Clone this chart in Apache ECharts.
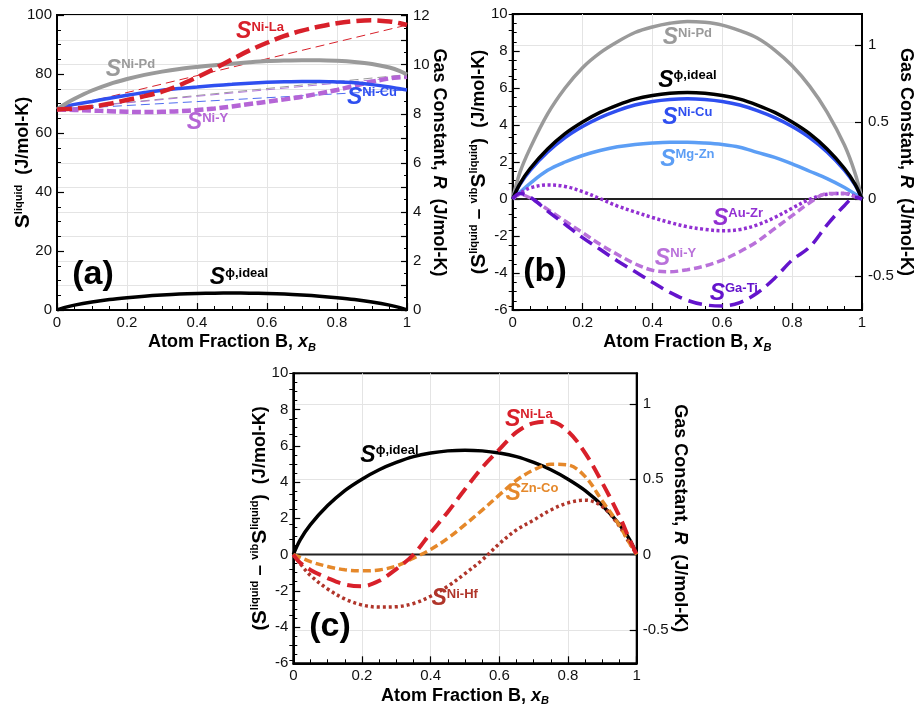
<!DOCTYPE html>
<html>
<head>
<meta charset="utf-8">
<script src="https://cdn.jsdelivr.net/npm/echarts@6/dist/echarts.min.js"></script>
<style>
  html, body { margin: 0; padding: 0; background: #fff; }
  #chart { width: 916px; height: 708px; }
</style>
</head>
<body>
<div id="chart"></div>
<script>
// Gas constant used to relate the left (J/mol-K) and right (R) scales
const R_GAS = 8.314;

// Composition grid, atom fraction of B
const xB = [0, 0.02, 0.05, 0.1, 0.15, 0.2, 0.25, 0.3, 0.35, 0.4, 0.45, 0.5,
            0.55, 0.6, 0.65, 0.7, 0.75, 0.8, 0.85, 0.9, 0.95, 0.98, 1];
const xEnds = [0, 1];

// Ideal configurational entropy of mixing (all panels)
const idealMix = [0, 0.81, 1.65, 2.70, 3.53, 4.16, 4.68, 5.08, 5.40, 5.60, 5.72, 5.76,
                  5.72, 5.60, 5.40, 5.08, 4.68, 4.16, 3.53, 2.70, 1.65, 0.81, 0];

// Panel (a): total liquid entropy, J/mol-K
const liqNiLa = [68, 68.1, 68.3, 68.9, 69.9, 71.2, 72.5, 74.0, 76.2, 78.9, 81.8, 85.0,
                 88.0, 90.6, 92.9, 94.7, 96.1, 97.2, 97.9, 98.2, 97.8, 97.2, 96.6];
const liqNiPd = [68, 69.6, 71.6, 74.4, 76.6, 78.3, 79.7, 80.8, 81.7, 82.4, 83.0, 83.5,
                 84.0, 84.4, 84.6, 84.7, 84.7, 84.5, 84.1, 83.4, 82.2, 81.0, 79.8];
const liqNiCu = [68, 68.9, 69.7, 70.7, 71.8, 72.8, 73.7, 74.5, 75.1, 75.6, 76.1, 76.5,
                 76.9, 77.2, 77.4, 77.5, 77.5, 77.3, 77.0, 76.4, 75.6, 75.0, 74.6];
const liqNiY  = [68, 67.9, 67.8, 67.6, 67.4, 67.2, 67.1, 67.2, 67.4, 67.8, 68.3, 69.0,
                 69.8, 70.6, 71.4, 72.3, 73.4, 74.6, 76.0, 77.4, 78.5, 78.9, 79.1];
// Straight mixing lines between the pure-element values
const mixNiLa = [68, 96.6];
const mixNiPd = [68, 79.8];
const mixNiY  = [68, 79.1];
const mixNiCu = [68, 74.6];

// Panel (b): liquid minus vibrational entropy, J/mol-K
const exNiPd = [0, 1.4, 2.75, 4.6, 6.0, 7.1, 7.9, 8.5, 9.0, 9.3, 9.5, 9.6,
                9.55, 9.4, 9.1, 8.7, 8.05, 7.2, 6.1, 4.7, 2.9, 1.4, 0];
const exNiCu = [0, 0.76, 1.55, 2.54, 3.32, 3.92, 4.40, 4.78, 5.08, 5.27, 5.38, 5.42,
                5.38, 5.27, 5.08, 4.78, 4.40, 3.92, 3.32, 2.54, 1.55, 0.76, 0];
const exMgZn = [0, 0.35, 0.85, 1.55, 2.0, 2.35, 2.62, 2.82, 2.95, 3.03, 3.07, 3.07,
                3.03, 2.95, 2.8, 2.52, 2.25, 1.9, 1.5, 1.1, 0.62, 0.27, 0];
const exAuZr = [0, 0.3, 0.6, 0.76, 0.68, 0.4, 0.02, -0.38, -0.7, -1.0, -1.27, -1.5,
                -1.64, -1.72, -1.65, -1.4, -1.0, -0.5, -0.02, 0.26, 0.3, 0.15, 0];
const exNiY  = [0, 0.25, 0.05, -0.56, -1.19, -1.82, -2.45, -3.0, -3.5, -3.85, -3.93, -3.82,
                -3.62, -3.3, -2.85, -2.3, -1.6, -0.9, -0.2, 0.29, 0.3, 0.12, 0];
const exGaTi = [0, 0.3, 0.1, -0.65, -1.37, -2.09, -2.72, -3.35, -3.92, -4.5, -5.05, -5.48,
                -5.72, -5.78, -5.6, -5.08, -4.28, -3.3, -2.6, -1.4, -0.35, 0.1, 0];

// Panel (c): liquid minus vibrational entropy, J/mol-K
const exNiLa = [0, -0.45, -0.85, -1.3, -1.65, -1.75, -1.45, -0.8, 0.0, 1.2, 2.35, 3.6,
                4.8, 5.8, 6.75, 7.25, 7.33, 6.8, 5.6, 3.95, 2.1, 0.8, 0];
const exZnCo = [0, -0.15, -0.39, -0.66, -0.84, -0.9, -0.85, -0.63, -0.2, 0.28, 0.9, 1.65,
                2.45, 3.29, 4.1, 4.67, 4.98, 4.94, 4.3, 2.95, 1.6, 0.6, 0];
const exNiHf = [0, -0.5, -1.15, -1.9, -2.45, -2.78, -2.9, -2.88, -2.7, -2.3, -1.75, -1.05,
                -0.3, 0.6, 1.36, 1.9, 2.46, 2.85, 3.0, 2.65, 1.55, 0.6, 0];
const zeroLine = [0, 0];

// Tick values
const rTicksBC = [-0.5, 0, 0.5, 1];
const rMinorBC = [-0.7, -0.6, -0.4, -0.3, -0.2, -0.1, 0.1, 0.2, 0.3, 0.4, 0.6, 0.7, 0.8, 0.9, 1.1, 1.2];

const FONT = '"Liberation Sans", Arial, sans-serif';
const C = {
  red: '#d8202a', gray: '#9a9a9a', blue: '#2f4ff0', lilac: '#b565d6',
  sky: '#5c9ef5', violet: '#9230d2', indigo: '#6414cc', orange: '#e5882a',
  brick: '#b0352a', black: '#000000'
};

const grids = [
  { left: 57, top: 15, width: 350, height: 295 },
  { left: 512.7, top: 14, width: 353, height: 296 },
  { left: 293.3, top: 373.3, width: 343.4, height: 290 }
].map(g => Object.assign({ show: true, borderColor: '#000', borderWidth: 2, backgroundColor: 'transparent' }, g));

const tickLabel = { fontFamily: FONT, fontSize: 15, color: '#111' };
const nameRich = {
  t: { fontFamily: FONT, fontSize: 18, fontWeight: 'bold', color: '#000' },
  i: { fontFamily: FONT, fontSize: 18, fontWeight: 'bold', fontStyle: 'italic', color: '#000' },
  b: { fontFamily: FONT, fontSize: 21, fontWeight: 'bold', color: '#000' },
  p: { fontFamily: FONT, fontSize: 19, fontWeight: 'bold', color: '#000' },
  u: { fontFamily: FONT, fontSize: 11, fontWeight: 'bold', color: '#000', verticalAlign: 'top' },
  sub: { fontFamily: FONT, fontSize: 11, fontWeight: 'bold', fontStyle: 'italic', color: '#000', padding: [10, 0, 0, 0] }
};

function xAxisFor(gi) {
  return {
    type: 'value', gridIndex: gi, min: 0, max: 1, interval: 0.2,
    name: '{t|Atom Fraction B, }{i|x}{sub|B}',
    nameLocation: 'middle', nameGap: 22, nameMoveOverlap: false,
    nameTextStyle: { rich: nameRich },
    axisLine: { show: true, onZero: false, lineStyle: { color: '#000', width: 2 } },
    axisTick: { show: true, inside: true, length: 7, lineStyle: { color: '#000', width: 1.2 } },
    minorTick: { show: true, splitNumber: 4, length: 4, lineStyle: { color: '#000', width: 1 } },
    axisLabel: Object.assign({ margin: 5, formatter: v => String(+v.toFixed(1)) }, tickLabel),
    splitLine: { show: true, lineStyle: { color: '#e4e4e4', width: 1 } }
  };
}

function leftAxis(gi, min, max, interval, name, gap) {
  return {
    type: 'value', gridIndex: gi, position: 'left', min, max, interval,
    name, nameLocation: 'middle', nameGap: gap, nameRotate: 90, nameMoveOverlap: false,
    nameTextStyle: { rich: nameRich },
    axisLine: { show: true, onZero: false, lineStyle: { color: '#000', width: 2 } },
    axisTick: { show: true, inside: true, length: 7, lineStyle: { color: '#000', width: 1.2 } },
    minorTick: { show: true, splitNumber: 4, length: 4, lineStyle: { color: '#000', width: 1 } },
    axisLabel: Object.assign({ margin: 5 }, tickLabel),
    splitLine: { show: false }
  };
}

const gasName = '{t|Gas Constant, }{i|R}{t|  (J/mol-K)}';
const diffName = '{p|(}{b|S}{u|liquid}{p| – }{u|vib}{b|S}{u|liquid}{p|)}{t|  (J/mol-K)}';

const yAxes = [
  // (a) left
  leftAxis(0, 0, 100, 20, '{b|S}{u|liquid}{t|  (J/mol-K)}', 23),
  // (a) right, in units of R
  {
    type: 'value', gridIndex: 0, position: 'right', min: 0, max: 100 / R_GAS, interval: 1,
    name: gasName, nameLocation: 'middle', nameGap: 23, nameRotate: -90, nameMoveOverlap: false,
    nameTextStyle: { rich: nameRich },
    axisLine: { show: true, onZero: false, lineStyle: { color: '#000', width: 2 } },
    axisTick: { show: true, inside: true, length: 6, lineStyle: { color: '#000', width: 1.2 } },
    minorTick: { show: true, splitNumber: 2, length: 3, lineStyle: { color: '#000', width: 1 } },
    axisLabel: Object.assign({
      margin: 6,
      formatter: v => (Math.abs(v - Math.round(v)) < 1e-6 && Math.round(v) % 2 === 0 && v <= 12) ? String(Math.round(v)) : ''
    }, tickLabel),
    splitLine: { show: true, lineStyle: { color: '#e4e4e4', width: 1 } }
  }
];

function rightBC(gi, gap) {
  return [
    {
      type: 'value', gridIndex: gi, position: 'right', min: -6 / R_GAS, max: 10 / R_GAS,
      name: gasName, nameLocation: 'middle', nameGap: gap, nameRotate: -90, nameMoveOverlap: false,
      nameTextStyle: { rich: nameRich },
      axisLine: { show: true, onZero: false, lineStyle: { color: '#000', width: 2 } },
      axisTick: { show: true, inside: true, length: 7, customValues: rTicksBC, lineStyle: { color: '#000', width: 1.2 } },
      axisLabel: Object.assign({ margin: 6, customValues: rTicksBC, formatter: v => String(+(+v).toFixed(2)) }, tickLabel),
      splitLine: { show: true, lineStyle: { color: '#e4e4e4', width: 1 } }
    },
    {
      type: 'value', gridIndex: gi, position: 'right', min: -6 / R_GAS, max: 10 / R_GAS,
      axisLine: { show: false },
      axisTick: { show: true, inside: true, length: 4, customValues: rMinorBC, lineStyle: { color: '#000', width: 1 } },
      axisLabel: { show: false },
      splitLine: { show: false }
    }
  ];
}

yAxes.push(leftAxis(1, -6, 10, 2, diffName, 23));   // index 2
yAxes.push(...rightBC(1, 35));                       // index 3, 4
yAxes.push(leftAxis(2, -6, 10, 2, diffName, 23));   // index 5
yAxes.push(...rightBC(2, 34));                       // index 6, 7

function pairs(xs, ys) { return xs.map((x, i) => [x, ys[i]]); }

function curve(name, xi, yi, ys, color, width, dash, z, xs) {
  return {
    type: 'line', name, xAxisIndex: xi, yAxisIndex: yi,
    data: pairs(xs || xB, ys), symbol: 'none', smooth: xs ? false : 0.35,
    lineStyle: { color, width, type: dash || 'solid', cap: 'butt' },
    z: z || 3, silent: true, animation: false
  };
}

const tagRich = {
  s: { fontFamily: FONT, fontSize: 23, fontWeight: 'bold', fontStyle: 'italic' },
  u: { fontFamily: FONT, fontSize: 13, fontWeight: 'bold', verticalAlign: 'top' }
};

function tags(xi, yi, list) {
  return {
    type: 'scatter', xAxisIndex: xi, yAxisIndex: yi, symbolSize: 1,
    itemStyle: { color: 'rgba(0,0,0,0)', opacity: 1 }, silent: true, animation: false, z: 20,
    data: list.map(t => ({
      value: t.at,
      label: { show: true, position: 'inside', color: t.color, opacity: 1,
               formatter: '{s|S}{u|' + t.sup + '}', rich: tagRich }
    }))
  };
}

const series = [
  // (a)
  curve('mix Ni-La', 0, 0, mixNiLa, C.red, 1, [9, 5], 2, xEnds),
  curve('mix Ni-Pd', 0, 0, mixNiPd, C.gray, 1, [9, 5], 2, xEnds),
  curve('mix Ni-Y', 0, 0, mixNiY, '#b27ad8', 1, [9, 5], 2, xEnds),
  curve('mix Ni-Cu', 0, 0, mixNiCu, '#4f6cf0', 1, [9, 5], 2, xEnds),
  curve('ideal a', 0, 0, idealMix, C.black, 3.5),
  curve('Ni-Y a', 0, 0, liqNiY, C.lilac, 4.5, [9, 3.5]),
  curve('Ni-Cu a', 0, 0, liqNiCu, C.blue, 3.5),
  curve('Ni-Pd a', 0, 0, liqNiPd, C.gray, 4),
  curve('Ni-La a', 0, 0, liqNiLa, C.red, 4.5, [15, 6]),
  tags(0, 0, [
    { sup: 'Ni-La', color: C.red, at: [0.58, 94.2] },
    { sup: 'Ni-Pd', color: C.gray, at: [0.21, 81.4] },
    { sup: 'Ni-Cu', color: C.blue, at: [0.90, 71.9] },
    { sup: 'Ni-Y', color: C.lilac, at: [0.43, 63.4] },
    { sup: 'ϕ,ideal', color: C.black, at: [0.52, 10.8] }
  ]),
  // (b)
  curve('zero b', 1, 2, zeroLine, '#222', 2, 'solid', 2, xEnds),
  curve('Ni-Pd b', 1, 2, exNiPd, C.gray, 3.5),
  curve('Mg-Zn b', 1, 2, exMgZn, C.sky, 3.5),
  curve('Ni-Cu b', 1, 2, exNiCu, C.blue, 3.5),
  curve('ideal b', 1, 2, idealMix, C.black, 3.5),
  curve('Au-Zr b', 1, 2, exAuZr, C.violet, 3.5, [3, 2.5]),
  curve('Ni-Y b', 1, 2, exNiY, '#b971da', 3.5, [8, 4]),
  curve('Ga-Ti b', 1, 2, exGaTi, C.indigo, 3.5, [14, 7]),
  tags(1, 2, [
    { sup: 'Ni-Pd', color: C.gray, at: [0.50, 8.7] },
    { sup: 'ϕ,ideal', color: C.black, at: [0.50, 6.4] },
    { sup: 'Ni-Cu', color: C.blue, at: [0.50, 4.4] },
    { sup: 'Mg-Zn', color: C.sky, at: [0.50, 2.15] },
    { sup: 'Au-Zr', color: C.violet, at: [0.645, -1.05] },
    { sup: 'Ni-Y', color: '#b971da', at: [0.466, -3.2] },
    { sup: 'Ga-Ti', color: C.indigo, at: [0.633, -5.1] }
  ]),
  // (c)
  curve('zero c', 2, 5, zeroLine, '#222', 2, 'solid', 2, xEnds),
  curve('ideal c', 2, 5, idealMix, C.black, 3.5),
  curve('Ni-Hf c', 2, 5, exNiHf, C.brick, 3.5, [3, 3]),
  curve('Zn-Co c', 2, 5, exZnCo, C.orange, 3.5, [8, 4]),
  curve('Ni-La c', 2, 5, exNiLa, C.red, 4, [14, 7]),
  tags(2, 5, [
    { sup: 'ϕ,ideal', color: C.black, at: [0.28, 5.45] },
    { sup: 'Ni-La', color: C.red, at: [0.686, 7.45] },
    { sup: 'Zn-Co', color: C.orange, at: [0.695, 3.35] },
    { sup: 'Ni-Hf', color: C.brick, at: [0.47, -2.45] }
  ])
];

const panelTag = (text, x, y) => ({
  type: 'text', x, y, z: 30, silent: true,
  style: { text, font: 'bold 34px ' + FONT, fill: '#000', align: 'center', verticalAlign: 'middle' }
});

const chart = echarts.init(document.getElementById('chart'), null, { renderer: 'canvas' });
chart.setOption({
  animation: false,
  backgroundColor: '#fff',
  grid: grids,
  xAxis: [xAxisFor(0), xAxisFor(1), xAxisFor(2)],
  yAxis: yAxes,
  series,
  graphic: [panelTag('(a)', 93, 275), panelTag('(b)', 545, 272), panelTag('(c)', 330, 627)]
});
</script>
</body>
</html>
